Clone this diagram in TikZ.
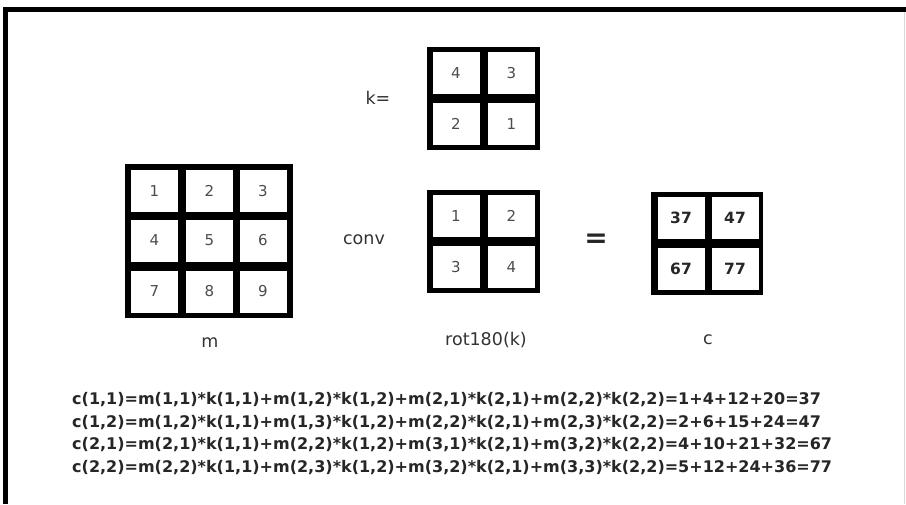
\documentclass[tikz,border=0pt]{standalone}
\usepackage{fontspec}
\setmainfont{DejaVu Sans}
\begin{document}
\begin{tikzpicture}[x=1pt,y=-1pt,
 gridbox/.style={fill=black, inner sep=0pt, outer sep=0pt},
 cell/.style={fill=white, inner sep=0pt, minimum width=47pt, minimum height=42pt, font=\fontsize{15}{17}\selectfont, text=black!70},
 ccell/.style={cell, font=\fontsize{15.5}{17}\selectfont\bfseries, text=black!85},
 lab/.style={font=\fontsize{17.5}{20}\selectfont, text=black!80, inner sep=0pt},
 formula/.style={font=\fontsize{16}{20}\selectfont\bfseries, text=black!85, anchor=west, inner sep=0pt}]
\useasboundingbox (0,0) rectangle (906,504);
\fill[white] (0,0) rectangle (906,504);
% frame
\draw[line width=4.5pt] (5.5,504) -- (5.5,9.5) -- (906,9.5);
\draw[black!15, line width=1pt] (904,12) -- (904,504);

% matrix m
\node[gridbox, minimum width=168pt, minimum height=154pt] (mbox) at (209,241) {};
\node[cell] (m11) at (154.5,191) {1};
\node[cell] (m12) at (209.5,191) {2};
\node[cell] (m13) at (263,191) {3};
\node[cell] (m21) at (154.5,240.5) {4};
\node[cell] (m22) at (209.5,240.5) {5};
\node[cell] (m23) at (263,240.5) {6};
\node[cell] (m31) at (154.5,291.5) {7};
\node[cell] (m32) at (209.5,291.5) {8};
\node[cell] (m33) at (263,291.5) {9};

% kernel k
\node[gridbox, minimum width=113pt, minimum height=103pt] (kbox) at (483.5,98.5) {};
\node[cell] (k11) at (456,73) {4};
\node[cell] (k12) at (511.5,73) {3};
\node[cell] (k21) at (456,124) {2};
\node[cell] (k22) at (511.5,124) {1};

% rot180(k)
\node[gridbox, minimum width=113pt, minimum height=103pt] (rbox) at (483.5,241.5) {};
\node[cell] (r11) at (456,216) {1};
\node[cell] (r12) at (511.5,216) {2};
\node[cell] (r21) at (456,267) {3};
\node[cell] (r22) at (511.5,267) {4};

% result c
\node[gridbox, minimum width=112pt, minimum height=103pt] (cbox) at (707,243.5) {};
\node[ccell] (c11) at (681,218) {37};
\node[ccell] (c12) at (735,218) {47};
\node[ccell] (c21) at (681,269) {67};
\node[ccell] (c22) at (735,269) {77};

% labels
\node[lab] (keq) at (378,98) {k=};
\node[lab] (conv) at (364,240) {conv};
\node[inner sep=0pt, font=\fontsize{28}{30}\selectfont\bfseries, text=black!85] (eq) at (596,241) {=};
\node[lab] (lm) at (210,343) {m};
\node[lab] (lr) at (486,340) {rot180(k)};
\node[lab] (lc) at (708,340) {c};

% formulas
\node[formula] (f1) at (72,400) {c(1,1)=m(1,1)*k(1,1)+m(1,2)*k(1,2)+m(2,1)*k(2,1)+m(2,2)*k(2,2)=1+4+12+20=37};
\node[formula] (f2) at (72,422.5) {c(1,2)=m(1,2)*k(1,1)+m(1,3)*k(1,2)+m(2,2)*k(2,1)+m(2,3)*k(2,2)=2+6+15+24=47};
\node[formula] (f3) at (72,445) {c(2,1)=m(2,1)*k(1,1)+m(2,2)*k(1,2)+m(3,1)*k(2,1)+m(3,2)*k(2,2)=4+10+21+32=67};
\node[formula] (f4) at (72,467.5) {c(2,2)=m(2,2)*k(1,1)+m(2,3)*k(1,2)+m(3,2)*k(2,1)+m(3,3)*k(2,2)=5+12+24+36=77};
\end{tikzpicture}
\end{document}
